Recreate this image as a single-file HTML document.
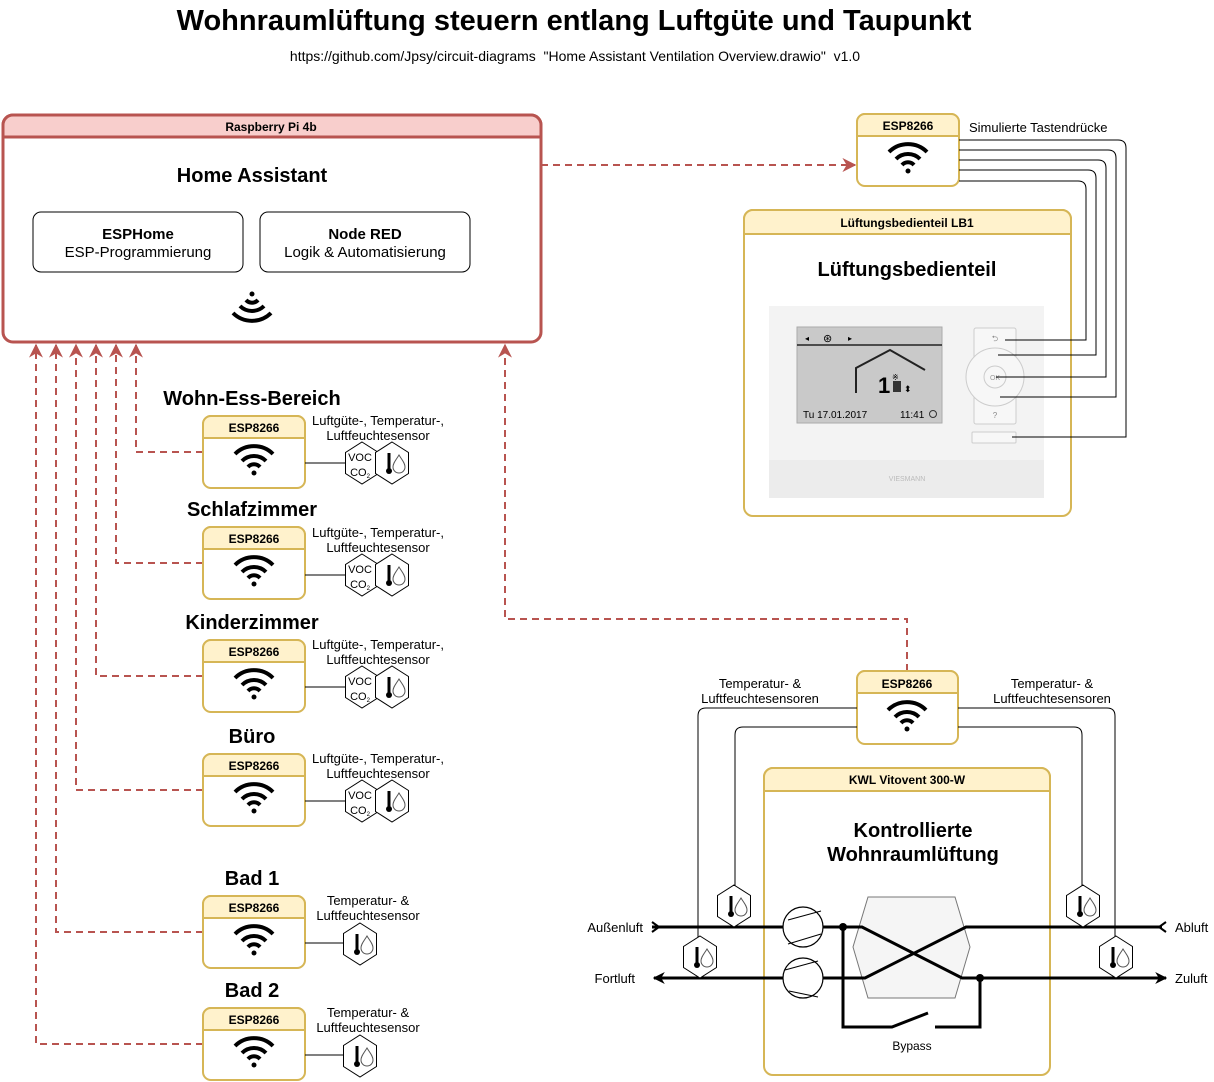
<!DOCTYPE html>
<html><head><meta charset="utf-8"><style>
html,body{margin:0;padding:0;background:#fff}
svg{display:block}
text{font-family:"Liberation Sans",Arial,sans-serif;fill:#000}
</style></head><body>
<svg width="1214" height="1082" viewBox="0 0 1214 1082" xmlns="http://www.w3.org/2000/svg">
<defs>
<g id="wifi">
<path d="M-19,-6 A27,27 0 0 1 19,-6" fill="none" stroke="#000" stroke-width="4"/>
<path d="M-12,1 A17,17 0 0 1 12,1" fill="none" stroke="#000" stroke-width="4"/>
<path d="M-6,7 A8,8 0 0 1 6,7" fill="none" stroke="#000" stroke-width="4"/>
<circle cx="0" cy="13" r="2.5" fill="#000"/>
</g>
<g id="hex"><polygon points="0,-21 16.5,-10.5 16.5,10.5 0,21 -16.5,10.5 -16.5,-10.5" fill="#fff" stroke="#000" stroke-width="1"/></g>
<g id="th">
<line x1="-4" y1="-10" x2="-4" y2="7" stroke="#000" stroke-width="3"/>
<circle cx="-4" cy="8" r="3" fill="#000"/>
<path d="M6,-8 C9,-3 12,0 12,4 A6,6 0 0 1 0,4 C0,0 3,-3 6,-8 Z" fill="none" stroke="#555" stroke-width="1"/>
</g>
<g id="tsens"><use href="#hex"/><use href="#th" x="1"/></g>
<marker id="ar" viewBox="0 0 10 10" refX="9" refY="5" markerWidth="7" markerHeight="7" orient="auto"><path d="M0,0 L10,5 L0,10 L3,5 Z" fill="#b85450"/></marker>
<marker id="ab" viewBox="0 0 10 10" refX="9" refY="5" markerWidth="4" markerHeight="4" orient="auto"><path d="M0,0 L10,5 L0,10 L3,5 Z" fill="#000"/></marker>
</defs>

<text x="574" y="30" font-size="29" font-weight="bold" text-anchor="middle">Wohnraumlüftung steuern entlang Luftgüte und Taupunkt</text>
<text x="575" y="61" font-size="14" text-anchor="middle">https://github.com/Jpsy/circuit-diagrams&#160; "Home Assistant Ventilation Overview.drawio"&#160; v1.0</text>

<g fill="none" stroke="#b85450" stroke-width="2" stroke-dasharray="7 5">
<path d="M541,165 H855" marker-end="url(#ar)"/>
<path d="M907,671 V619 H505 V345" marker-end="url(#ar)"/>
<path d="M203,452 H136 V345" marker-end="url(#ar)"/>
<path d="M203,563 H116 V345" marker-end="url(#ar)"/>
<path d="M203,676 H96 V345" marker-end="url(#ar)"/>
<path d="M203,790 H76 V345" marker-end="url(#ar)"/>
<path d="M203,932 H56 V345" marker-end="url(#ar)"/>
<path d="M203,1044 H36 V345" marker-end="url(#ar)"/>
</g>

<rect x="3" y="115" width="538" height="227" rx="10" fill="#fff" stroke="#b85450" stroke-width="3"/>
<path d="M3,137 V125 A10,10 0 0 1 13,115 H531 A10,10 0 0 1 541,125 V137 Z" fill="#f8cecc" stroke="#b85450" stroke-width="3"/>
<text x="271" y="131" font-size="12" font-weight="bold" text-anchor="middle">Raspberry Pi 4b</text>
<text x="252" y="182" font-size="20" font-weight="bold" text-anchor="middle">Home Assistant</text>
<rect x="33" y="212" width="210" height="60" rx="8" fill="#fff" stroke="#000"/>
<text x="138" y="239" font-size="15" font-weight="bold" text-anchor="middle">ESPHome</text>
<text x="138" y="257" font-size="15" text-anchor="middle">ESP-Programmierung</text>
<rect x="260" y="212" width="210" height="60" rx="8" fill="#fff" stroke="#000"/>
<text x="365" y="239" font-size="15" font-weight="bold" text-anchor="middle">Node RED</text>
<text x="365" y="257" font-size="15" text-anchor="middle">Logik &amp; Automatisierung</text>
<use href="#wifi" transform="translate(252,307) rotate(180)"/>

<g font-size="20" font-weight="bold" text-anchor="middle">
<text x="252" y="405">Wohn-Ess-Bereich</text>
<text x="252" y="516">Schlafzimmer</text>
<text x="252" y="629">Kinderzimmer</text>
<text x="252" y="743">Büro</text>
<text x="252" y="885">Bad 1</text>
<text x="252" y="997">Bad 2</text>
</g>

<g stroke="#d6b656" stroke-width="2">
<rect x="203" y="416" width="102" height="72" rx="8" fill="#fff"/>
<rect x="203" y="527" width="102" height="72" rx="8" fill="#fff"/>
<rect x="203" y="640" width="102" height="72" rx="8" fill="#fff"/>
<rect x="203" y="754" width="102" height="72" rx="8" fill="#fff"/>
<rect x="203" y="896" width="102" height="72" rx="8" fill="#fff"/>
<rect x="203" y="1008" width="102" height="72" rx="8" fill="#fff"/>
<rect x="857" y="114" width="102" height="72" rx="8" fill="#fff"/>
<rect x="857" y="671" width="101" height="73" rx="8" fill="#fff"/>
<path d="M203,438 V424 A8,8 0 0 1 211,416 H297 A8,8 0 0 1 305,424 V438 Z" fill="#fff2cc"/>
<path d="M203,549 V535 A8,8 0 0 1 211,527 H297 A8,8 0 0 1 305,535 V549 Z" fill="#fff2cc"/>
<path d="M203,662 V648 A8,8 0 0 1 211,640 H297 A8,8 0 0 1 305,648 V662 Z" fill="#fff2cc"/>
<path d="M203,776 V762 A8,8 0 0 1 211,754 H297 A8,8 0 0 1 305,762 V776 Z" fill="#fff2cc"/>
<path d="M203,918 V904 A8,8 0 0 1 211,896 H297 A8,8 0 0 1 305,904 V918 Z" fill="#fff2cc"/>
<path d="M203,1030 V1016 A8,8 0 0 1 211,1008 H297 A8,8 0 0 1 305,1016 V1030 Z" fill="#fff2cc"/>
<path d="M857,136 V122 A8,8 0 0 1 865,114 H951 A8,8 0 0 1 959,122 V136 Z" fill="#fff2cc"/>
<path d="M857,693 V679 A8,8 0 0 1 865,671 H950 A8,8 0 0 1 958,679 V693 Z" fill="#fff2cc"/>
</g>
<g font-size="12" font-weight="bold" text-anchor="middle">
<text x="254" y="432">ESP8266</text>
<text x="254" y="543">ESP8266</text>
<text x="254" y="656">ESP8266</text>
<text x="254" y="770">ESP8266</text>
<text x="254" y="912">ESP8266</text>
<text x="254" y="1024">ESP8266</text>
<text x="908" y="130">ESP8266</text>
<text x="907" y="688">ESP8266</text>
</g>
<use href="#wifi" x="254" y="460"/>
<use href="#wifi" x="254" y="571"/>
<use href="#wifi" x="254" y="684"/>
<use href="#wifi" x="254" y="798"/>
<use href="#wifi" x="254" y="940"/>
<use href="#wifi" x="254" y="1052"/>
<use href="#wifi" x="908" y="158"/>
<use href="#wifi" x="907" y="716"/>

<g font-size="13" text-anchor="middle">
<text x="378" y="425">Luftgüte-, Temperatur-,</text><text x="378" y="440">Luftfeuchtesensor</text>
<text x="378" y="537">Luftgüte-, Temperatur-,</text><text x="378" y="552">Luftfeuchtesensor</text>
<text x="378" y="649">Luftgüte-, Temperatur-,</text><text x="378" y="664">Luftfeuchtesensor</text>
<text x="378" y="763">Luftgüte-, Temperatur-,</text><text x="378" y="778">Luftfeuchtesensor</text>
<text x="368" y="905">Temperatur- &amp;</text><text x="368" y="920">Luftfeuchtesensor</text>
<text x="368" y="1017">Temperatur- &amp;</text><text x="368" y="1032">Luftfeuchtesensor</text>
</g>
<g stroke="#000" stroke-width="1">
<line x1="305" y1="463" x2="345" y2="463"/><line x1="305" y1="575" x2="345" y2="575"/>
<line x1="305" y1="687" x2="345" y2="687"/><line x1="305" y1="801" x2="345" y2="801"/>
<line x1="305" y1="943" x2="344" y2="943"/><line x1="305" y1="1055" x2="344" y2="1055"/>
</g>
<g transform="translate(0,463)"><use href="#hex" x="362"/><use href="#tsens" x="392"/>
<text x="360" y="-2" font-size="11" text-anchor="middle">VOC</text><text x="360" y="13" font-size="11" text-anchor="middle">CO<tspan font-size="6" dy="2">2</tspan></text></g>
<g transform="translate(0,575)"><use href="#hex" x="362"/><use href="#tsens" x="392"/>
<text x="360" y="-2" font-size="11" text-anchor="middle">VOC</text><text x="360" y="13" font-size="11" text-anchor="middle">CO<tspan font-size="6" dy="2">2</tspan></text></g>
<g transform="translate(0,687)"><use href="#hex" x="362"/><use href="#tsens" x="392"/>
<text x="360" y="-2" font-size="11" text-anchor="middle">VOC</text><text x="360" y="13" font-size="11" text-anchor="middle">CO<tspan font-size="6" dy="2">2</tspan></text></g>
<g transform="translate(0,801)"><use href="#hex" x="362"/><use href="#tsens" x="392"/>
<text x="360" y="-2" font-size="11" text-anchor="middle">VOC</text><text x="360" y="13" font-size="11" text-anchor="middle">CO<tspan font-size="6" dy="2">2</tspan></text></g>
<use href="#tsens" x="360" y="944"/>
<use href="#tsens" x="360" y="1056"/>

<!-- panel -->
<rect x="744" y="210" width="327" height="306" rx="9" fill="none" stroke="#d6b656" stroke-width="2"/>
<path d="M744,234 V219 A9,9 0 0 1 753,210 H1062 A9,9 0 0 1 1071,219 V234 Z" fill="#fff2cc" stroke="#d6b656" stroke-width="2"/>
<text x="907" y="227" font-size="12" font-weight="bold" text-anchor="middle">Lüftungsbedienteil LB1</text>
<text x="907" y="276" font-size="20" font-weight="bold" text-anchor="middle">Lüftungsbedienteil</text>
<rect x="769" y="306" width="275" height="192" fill="#f3f3f3"/>
<rect x="769" y="460" width="275" height="38" fill="#ececec"/>
<text x="907" y="481" font-size="7" text-anchor="middle" style="fill:#bbb">VIESMANN</text>
<rect x="797" y="327" width="145" height="96" fill="#c9c9c9" stroke="#aaa"/>
<line x1="797" y1="345" x2="942" y2="345" stroke="#222" stroke-width="1.5"/>
<text x="805" y="341" font-size="8">◂</text><text x="823" y="342" font-size="11">⊛</text><text x="848" y="341" font-size="8">▸</text>
<path d="M856,393 V368 L890,350 L925,370" fill="none" stroke="#222" stroke-width="2"/>
<text x="878" y="393" font-size="22" font-weight="bold">1</text>
<text x="892" y="380" font-size="8">※</text>
<rect x="893" y="381" width="8" height="11" fill="#333"/>
<text x="904" y="392" font-size="9">⬍</text>
<text x="803" y="418" font-size="10">Tu 17.01.2017</text>
<text x="900" y="418" font-size="10">11:41</text>
<circle cx="933" cy="414" r="3.5" fill="none" stroke="#333"/>
<rect x="974" y="328" width="42" height="96" rx="2" fill="#f7f7f7" stroke="#ccc"/>
<circle cx="995" cy="377" r="29" fill="#f7f7f7" stroke="#ccc"/>
<circle cx="995" cy="377" r="11" fill="#f7f7f7" stroke="#ccc"/>
<text x="995" y="380" font-size="7" text-anchor="middle" style="fill:#999">OK</text>
<text x="995" y="341" font-size="8" text-anchor="middle" style="fill:#888">⮌</text>
<text x="995" y="418" font-size="8" text-anchor="middle" style="fill:#888">?</text>
<rect x="972" y="432" width="44" height="11" rx="1" fill="#f7f7f7" stroke="#ccc"/>

<!-- button wires (drawn over panel) -->
<text x="969" y="132" font-size="13">Simulierte Tastendrücke</text>
<g fill="none" stroke="#000" stroke-width="1">
<path d="M959,140 H1118 Q1126,140 1126,148 V437 H1012"/>
<path d="M959,150 H1108 Q1116,150 1116,158 V397 H1000"/>
<path d="M959,160 H1098 Q1106,160 1106,168 V377 H996"/>
<path d="M959,170 H1088 Q1096,170 1096,178 V355 H998"/>
<path d="M959,181 H1078 Q1086,181 1086,189 V340 H1005"/>
</g>

<text x="760" y="688" font-size="13" text-anchor="middle">Temperatur- &amp;</text>
<text x="760" y="703" font-size="13" text-anchor="middle">Luftfeuchtesensoren</text>
<text x="1052" y="688" font-size="13" text-anchor="middle">Temperatur- &amp;</text>
<text x="1052" y="703" font-size="13" text-anchor="middle">Luftfeuchtesensoren</text>
<g fill="none" stroke="#000" stroke-width="1">
<path d="M857,708 H706 Q698,708 698,716 V958"/>
<path d="M857,727 H743 Q735,727 735,735 V907"/>
<path d="M958,708 H1107 Q1115,708 1115,716 V958"/>
<path d="M958,727 H1074 Q1082,727 1082,735 V907"/>
</g>

<rect x="764" y="768" width="286" height="307" rx="9" fill="none" stroke="#d6b656" stroke-width="2"/>
<path d="M764,791 V777 A9,9 0 0 1 773,768 H1041 A9,9 0 0 1 1050,777 V791 Z" fill="#fff2cc" stroke="#d6b656" stroke-width="2"/>
<text x="907" y="784" font-size="12" font-weight="bold" text-anchor="middle">KWL Vitovent 300-W</text>
<text x="913" y="837" font-size="20" font-weight="bold" text-anchor="middle">Kontrollierte</text>
<text x="913" y="861" font-size="20" font-weight="bold" text-anchor="middle">Wohnraumlüftung</text>

<polygon points="868,897 955,897 970,947 955,998 868,998 853,947" fill="#f5f5f5" stroke="#777"/>
<g fill="none" stroke="#000" stroke-width="3">
<path d="M652,927 H783"/>
<path d="M823,927 H862 L962,978 H1166" marker-end="url(#ab)"/>
<path d="M1162,927 H966 L865,978 H823"/>
<path d="M783,978 H654" marker-end="url(#ab)"/>
<path d="M843,927 V1027 H892 L928,1013"/>
<path d="M935,1027 H980 V978"/>
<path d="M652,922 L659,927 L652,932" stroke-width="2"/>
<path d="M1166,922 L1159,927 L1166,932" stroke-width="2"/>
</g>
<circle cx="843" cy="927" r="4" fill="#000"/>
<circle cx="980" cy="978" r="4" fill="#000"/>
<g fill="#fff" stroke="#000" stroke-width="1.2">
<ellipse cx="803" cy="927" rx="20" ry="20"/>
<ellipse cx="803" cy="978" rx="20" ry="20"/>
</g>
<g stroke="#000" stroke-width="1">
<line x1="788" y1="920" x2="821" y2="911"/><line x1="788" y1="944" x2="821" y2="934"/>
<line x1="785" y1="970" x2="818" y2="961"/><line x1="789" y1="991" x2="818" y2="997"/>
</g>
<text x="912" y="1050" font-size="12" text-anchor="middle">Bypass</text>
<text x="643" y="932" font-size="13" text-anchor="end">Außenluft</text>
<text x="635" y="983" font-size="13" text-anchor="end">Fortluft</text>
<text x="1175" y="932" font-size="13">Abluft</text>
<text x="1175" y="983" font-size="13">Zuluft</text>
<use href="#tsens" x="734" y="906"/>
<use href="#tsens" x="1083" y="906"/>
<use href="#tsens" x="700" y="957"/>
<use href="#tsens" x="1116" y="957"/>
</svg>
</body></html>
